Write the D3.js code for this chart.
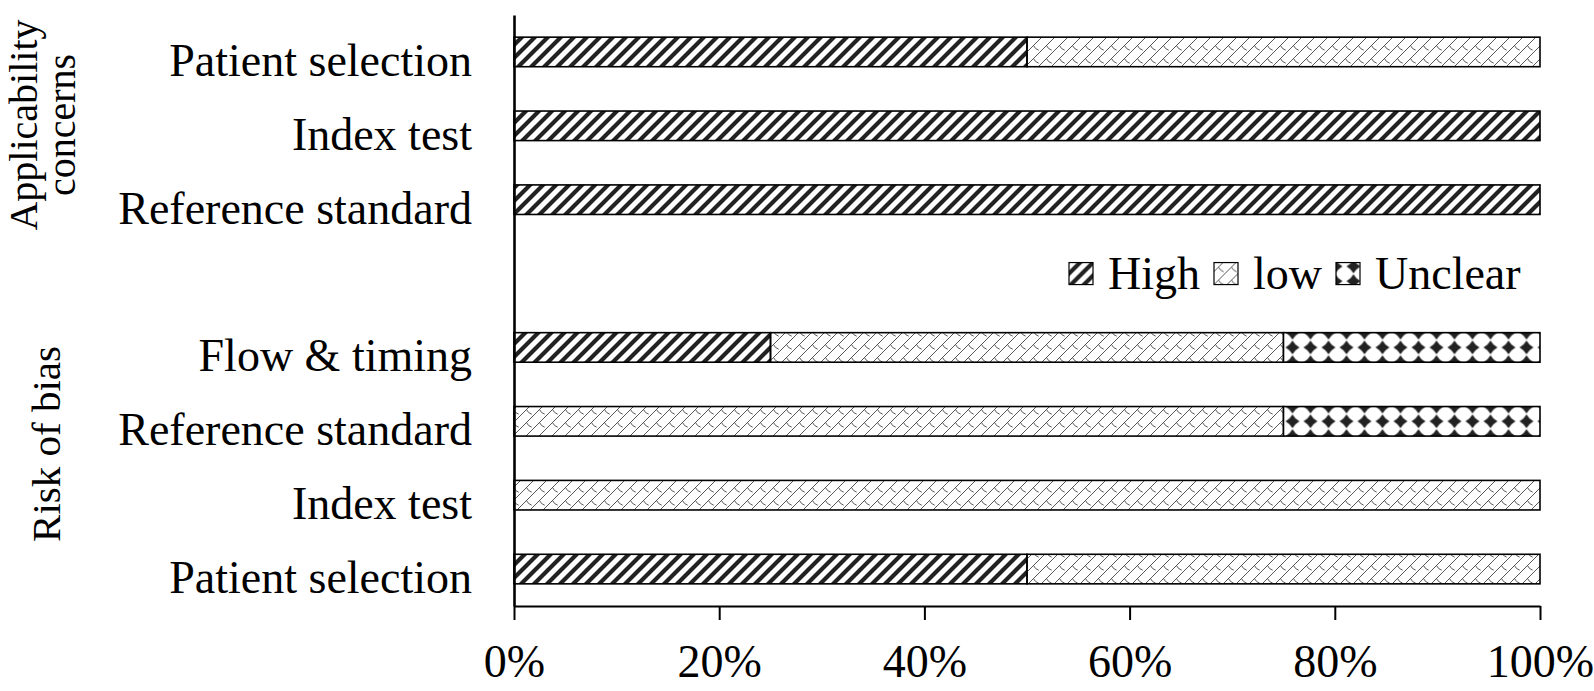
<!DOCTYPE html>
<html>
<head>
<meta charset="utf-8">
<script src="https://cdn.jsdelivr.net/npm/d3@7"></script>
<style>
  body { margin: 0; background: #fff; }
  text { font-family: "Liberation Serif", "Times New Roman", serif; fill: #000; }
</style>
</head>
<body>
<div id="chart"></div>
<script>
// filas de arriba a abajo (la fila "gap" queda vacía, ahí va la leyenda)
const rowKeys = ["ac_ps", "ac_it", "ac_rs", "gap", "rb_ft", "rb_rs", "rb_it", "rb_ps"];
const rowLabels = ["Patient selection", "Index test", "Reference standard", "",
                   "Flow & timing", "Reference standard", "Index test", "Patient selection"];
const seriesNames = ["High", "low", "Unclear"];
const highValues    = [50, 100, 100, 0, 25,  0,   0, 50];
const lowValues     = [50,   0,   0, 0, 50, 75, 100, 50];
const unclearValues = [ 0,   0,   0, 0, 25, 25,   0,  0];
const xTickValues = [0, 20, 40, 60, 80, 100];
const groupNames = [["Applicability", "concerns"], ["Risk of bias"]];

const width = 1594, height = 691;
const margin = { top: 15, right: 54, bottom: 85, left: 514 };

const table = rowKeys.map((k, i) => ({
  key: k, High: highValues[i], low: lowValues[i], Unclear: unclearValues[i]
}));

const svg = d3.select("#chart").append("svg")
  .attr("width", width).attr("height", height);

const x = d3.scaleLinear().domain([0, 100]).range([margin.left, width - margin.right]);
const y = d3.scaleBand().domain(rowKeys)
  .range([margin.top, height - margin.bottom])
  .paddingInner(0.6).paddingOuter(0.3);

// patrones de relleno (estilo Excel)
const defs = svg.append("defs");
const hp = 13;
const pHigh = defs.append("pattern").attr("id", "pat-High")
  .attr("patternUnits", "userSpaceOnUse").attr("width", hp).attr("height", hp);
pHigh.append("path")
  .attr("d", `M0,${hp} L${hp},0 M${-hp/4},${hp/4} L${hp/4},${-hp/4} M${hp*3/4},${hp*5/4} L${hp*5/4},${hp*3/4}`)
  .attr("stroke", "#222").attr("stroke-width", 4.2);

// "low": diagonales finas con tejas curvas
const lp = 13;
const pLow = defs.append("pattern").attr("id", "pat-low")
  .attr("patternUnits", "userSpaceOnUse").attr("width", lp).attr("height", lp);
pLow.append("path")
  .attr("d", `M0,${lp} L${lp},0 M-2,2 L2,-2 M${lp-2},${lp+2} L${lp+2},${lp-2} M${lp*0.5},${lp*0.5} Q${lp*0.62},${lp*0.78} ${lp*0.9},${lp*0.86}`)
  .attr("stroke", "#444").attr("stroke-width", 0.9).attr("fill", "none");

// "Unclear": rombos negros
const up = y.step() * 0.2, uw = 18;
const pUnc = defs.append("pattern").attr("id", "pat-Unclear")
  .attr("patternUnits", "userSpaceOnUse").attr("width", uw).attr("height", up)
  .attr("x", x(75)).attr("y", y(rowKeys[0]));
const diamond = (cx, cy) => `M${cx},${cy-7} Q${cx+2.5},${cy-2.5} ${cx+7},${cy} Q${cx+2.5},${cy+2.5} ${cx},${cy+7} Q${cx-2.5},${cy+2.5} ${cx-7},${cy} Q${cx-2.5},${cy-2.5} ${cx},${cy-7}Z`;
pUnc.append("rect").attr("width", uw).attr("height", up).attr("fill", "#fff");
pUnc.append("path").attr("d", diamond(uw/2, 0) + diamond(uw/2, up)).attr("fill", "#222");

// barras apiladas
const stack = d3.stack().keys(seriesNames);
const stacked = stack(table.filter(d => d.key !== "gap"));

svg.append("g").selectAll("g")
  .data(stacked)
  .join("g")
  .attr("fill", s => `url(#pat-${s.key})`)
  .selectAll("rect")
  .data(s => s.filter(d => d[1] - d[0] > 0))
  .join("rect")
  .attr("x", d => x(d[0]))
  .attr("y", d => y(d.data.key))
  .attr("width", d => x(d[1]) - x(d[0]))
  .attr("height", y.bandwidth())
  .attr("stroke", "#000")
  .attr("stroke-width", 1.6);

// eje X
const xAxis = svg.append("g")
  .attr("transform", `translate(0,${height - margin.bottom})`)
  .call(d3.axisBottom(x).tickValues(xTickValues).tickFormat(d => d + "%")
    .tickSize(14).tickSizeOuter(0).tickPadding(24));
xAxis.select(".domain").attr("stroke-width", 2);
xAxis.selectAll(".tick line").attr("stroke-width", 2);
xAxis.selectAll("text").attr("font-size", 46).attr("font-family", null);

// eje Y
const yAxis = svg.append("g")
  .attr("transform", `translate(${margin.left},0)`)
  .call(d3.axisLeft(y).tickFormat((d, i) => rowLabels[i]).tickSize(0).tickSizeOuter(0).tickPadding(42));
yAxis.select(".domain").attr("stroke-width", 2.6);
yAxis.selectAll("text").attr("font-size", 46).attr("font-family", null).attr("dy", "0.52em");

// etiquetas de grupo (rotadas)
const groupCenters = [125, 444];
groupNames.forEach((lines, gi) => {
  const cy = groupCenters[gi];
  const baseX = lines.length === 2 ? [37, 75] : [60];
  lines.forEach((t, li) => {
    svg.append("text")
      .attr("transform", `translate(${baseX[li]},${cy}) rotate(-90)`)
      .attr("text-anchor", "middle")
      .attr("font-size", lines.length === 2 ? 40 : 41)
      .text(t);
  });
});

// leyenda
const legend = svg.append("g").attr("transform", `translate(1069,${y("gap") + y.bandwidth() / 2})`);
let lx = 0;
seriesNames.forEach(name => {
  legend.append("rect")
    .attr("x", lx).attr("y", -11)
    .attr("width", 24).attr("height", 22)
    .attr("fill", `url(#pat-${name})`)
    .attr("stroke", "#000").attr("stroke-width", 1.2);
  const t = legend.append("text")
    .attr("x", lx + 39).attr("y", 15)
    .attr("font-size", 46)
    .text(name);
  lx += 39 + t.node().getComputedTextLength() + 14;
});
</script>
</body>
</html>
